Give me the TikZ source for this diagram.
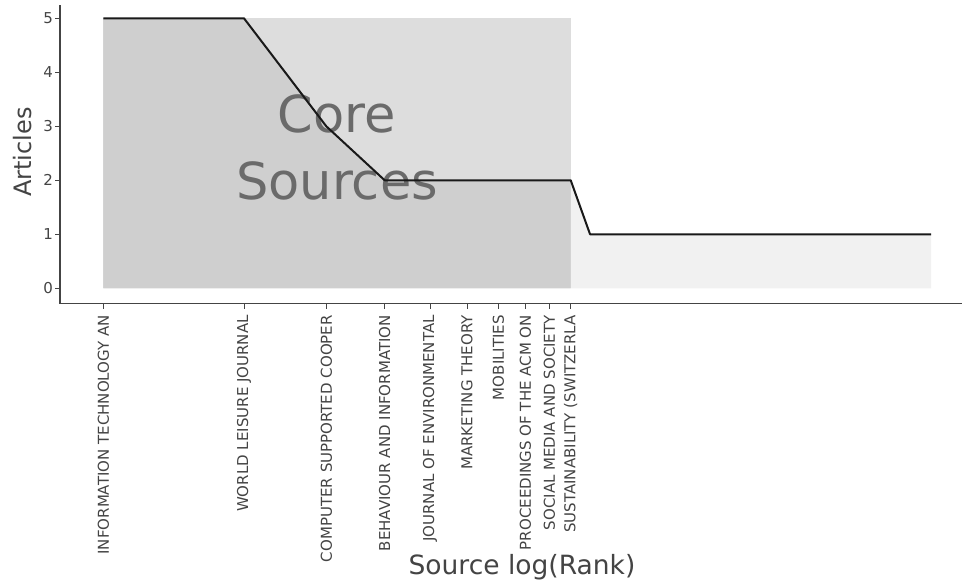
\documentclass[tikz,border=0pt]{standalone}
\usepackage{fontspec}
\setmainfont{DejaVu Sans}
\definecolor{axisgray}{HTML}{444444}
\definecolor{corerect}{HTML}{DDDDDD}
\definecolor{corearea}{HTML}{CFCFCF}
\definecolor{tailarea}{HTML}{F1F1F1}
\definecolor{coretext}{HTML}{6A6A6A}
\tikzset{
  ticklab/.style={rotate=90, anchor=east, inner sep=0pt, font=\fontsize{15}{15}\selectfont, text=axisgray},
  ylab/.style={anchor=east, inner sep=0pt, font=\fontsize{15}{15}\selectfont, text=axisgray},
  axtitle/.style={inner sep=0pt, font=\fontsize{24}{24}\selectfont, text=axisgray},
  axline/.style={draw=axisgray, line width=1.3pt},
  tickmark/.style={draw=axisgray, line width=0.9pt},
  dataline/.style={draw=black!90, line width=2pt, line join=round}
}
\begin{document}
\begin{tikzpicture}[x=1pt,y=-1pt]
\useasboundingbox[fill=white] (0,0) rectangle (962,587);
% data coordinates: x = 103.3 + 203*ln(rank), y = 288.3 - 54*value
\coordinate (r1) at ({103.3+203*ln(1)}, {288.3-54*5});
\coordinate (r2) at ({103.3+203*ln(2)}, {288.3-54*5});
\coordinate (r3) at ({103.3+203*ln(3)}, {288.3-54*3});
\coordinate (r4) at ({103.3+203*ln(4)}, {288.3-54*2});
\coordinate (r10) at ({103.3+203*ln(10)}, {288.3-54*2});
\coordinate (r11) at ({103.3+203*ln(11)}, {288.3-54*1});
\coordinate (r59) at ({103.3+203*ln(59)}, {288.3-54*1});
\coordinate (b1) at ({103.3}, 288.3);
\coordinate (b10) at ({103.3+203*ln(10)}, 288.3);
\coordinate (b59) at ({103.3+203*ln(59)}, 288.3);
\coordinate (t10) at ({103.3+203*ln(10)}, 18.3);
% fills
\fill[tailarea] (b10) -- (r10) -- (r11) -- (r59) -- (b59) -- cycle;
\fill[corerect] (b1) rectangle (t10);
\fill[corearea] (b1) -- (r1) -- (r2) -- (r3) -- (r4) -- (r10) -- (b10) -- cycle;
% core label
\node[font=\fontsize{51}{67}\selectfont, text=coretext, align=center, inner sep=0pt] (core) at (337,147) {Core\\Sources};
% data line
\draw[dataline] (r1) -- (r2) -- (r3) -- (r4) -- (r10) -- (r11) -- (r59);
% axes
\draw[axline] (60,5) -- (60,303.3) -- (962,303.3);
\foreach \v in {0,...,5} {
  \draw[tickmark] (55,{288.3-54*\v}) -- (60,{288.3-54*\v});
  \node[ylab] (y\v) at (53,{288.3-54*\v}) {\v};
}
% x ticks and labels
\foreach \r/\lab in {1/INFORMATION TECHNOLOGY AN,2/WORLD LEISURE JOURNAL,3/COMPUTER SUPPORTED COOPER,4/BEHAVIOUR AND INFORMATION,5/JOURNAL OF ENVIRONMENTAL,6/MARKETING THEORY,7/MOBILITIES,8/PROCEEDINGS OF THE ACM ON,9/SOCIAL MEDIA AND SOCIETY,10/SUSTAINABILITY (SWITZERLA} {
  \draw[tickmark] ({103.3+203*ln(\r)},303.3) -- ({103.3+203*ln(\r)},308.5);
  \node[ticklab] (x\r) at ({103.3+203*ln(\r)},315) {\lab};
}
% axis titles
\node[axtitle, rotate=90] (ytitle) at (23,152) {Articles};
\node[axtitle, font=\fontsize{26.5}{26.5}\selectfont] (xtitle) at (522,567) {Source log(Rank)};
\end{tikzpicture}
\end{document}
